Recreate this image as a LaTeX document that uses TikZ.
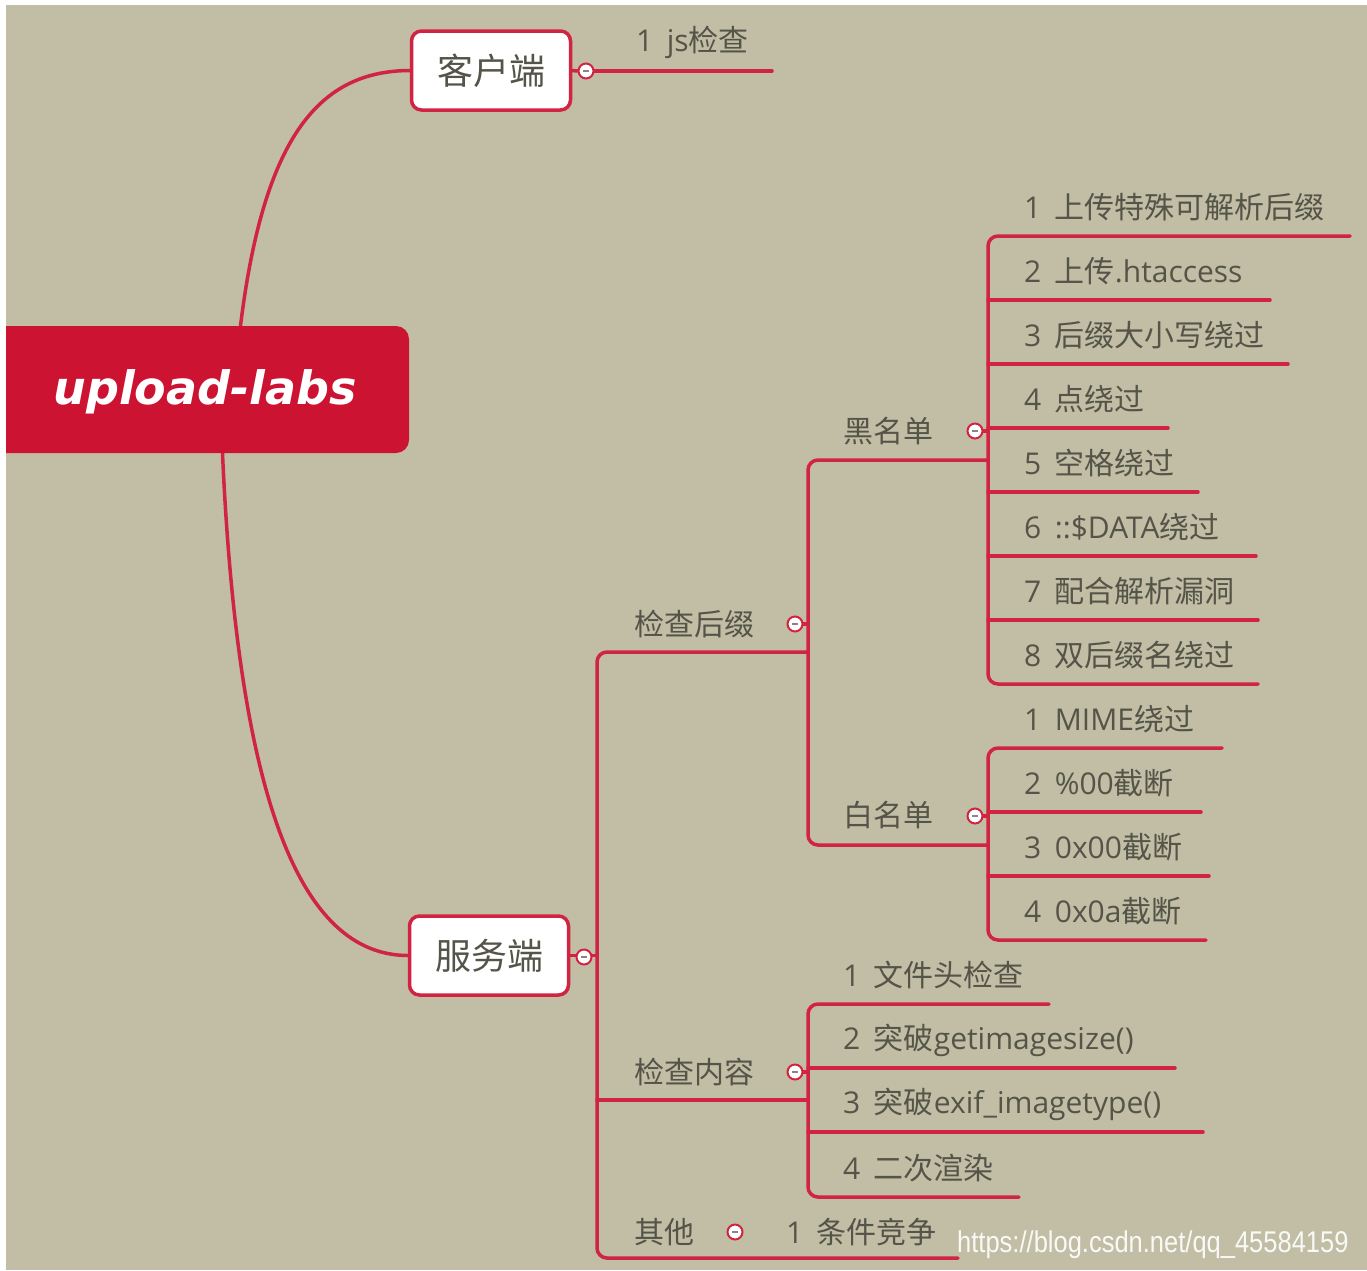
\documentclass[tikz,border=0pt]{standalone}
\usepackage{fontspec}
\setmainfont{Open Sans}
\newfontfamily\cjk{Noto Sans CJK SC}
\newfontfamily\rootfont{DejaVu Sans}[BoldItalicFont={DejaVu Sans Bold Oblique}]
\newfontfamily\wmfont{Liberation Sans}
\newcommand\C[1]{{\cjk #1}}
\newcommand\N[1]{#1\hspace{0.45em}}
\definecolor{bg}{RGB}{193,190,165}
\definecolor{mmred}{RGB}{204,20,50}
\definecolor{lnred}{RGB}{208,36,66}
\definecolor{txt}{RGB}{84,84,72}
\pgfdeclarelayer{back}
\pgfdeclarelayer{lines}
\pgfsetlayers{back,lines,main}
\begin{document}
\begin{tikzpicture}[x=1pt,y=-1pt,
  conn/.style={draw=lnred, line width=3.5pt, rounded corners=10pt, line cap=round},
  lbl/.style={anchor=west, inner sep=0pt, text=txt, font=\fontsize{30}{36}\selectfont},
  topic/.style={draw=lnred, line width=3.5pt, fill=white, rounded corners=10pt,
    minimum width=159pt, minimum height=79pt, inner sep=0pt, text=txt,
    font=\cjk\fontsize{36}{42}\selectfont},
  foldc/.style={circle, draw=lnred, line width=2pt, fill=white, minimum size=15pt, inner sep=0pt,
    path picture={\draw[txt!70, line width=1.2pt]
      ([xshift=-3pt]path picture bounding box.center) -- ([xshift=3pt]path picture bounding box.center);}},
]
\useasboundingbox (0,0) rectangle (1367,1270);
\begin{pgfonlayer}{back}
  \fill[white] (0,0) rectangle (1367,1270);
  \fill[bg] (6,5) rectangle (1367,1270);
\end{pgfonlayer}

% root
\begin{scope}
  \clip (6,0) rectangle (1367,1270);
  \node[fill=mmred, rounded corners=13pt, minimum width=429pt, minimum height=127pt, inner sep=0pt] (root) at (194.5,389.5) {};
\end{scope}
\node[text=white, inner sep=0pt, font=\rootfont\bfseries\itshape\fontsize{46}{54}\selectfont] (roottxt) at (205,392) {upload-labs};

% main topics
\node[topic] (kh) at (491,70.5) {客户端};
\node[topic] (fw) at (489,955.5) {服务端};

% labels
\node[lbl] (js) at (636,42) {\N{1}js\C{检查}};
\node[lbl] (jchz) at (634,624) {\C{检查后缀}};
\node[lbl] (jcnr) at (634,1072) {\C{检查内容}};
\node[lbl] (qt) at (634,1232) {\C{其他}};
\node[lbl] (hmd) at (843,431) {\C{黑名单}};
\node[lbl] (bmd) at (843,815) {\C{白名单}};

\node[lbl] (h1) at (1024,207) {\N{1}\C{上传特殊可解析后缀}};
\node[lbl] (h2) at (1024,271) {\N{2}\C{上传}.htaccess};
\node[lbl] (h3) at (1024,335) {\N{3}\C{后缀大小写绕过}};
\node[lbl] (h4) at (1024,399) {\N{4}\C{点绕过}};
\node[lbl] (h5) at (1024,463) {\N{5}\C{空格绕过}};
\node[lbl] (h6) at (1024,527) {\N{6}::\$DATA\C{绕过}};
\node[lbl] (h7) at (1024,591) {\N{7}\C{配合解析漏洞}};
\node[lbl] (h8) at (1024,655) {\N{8}\C{双后缀名绕过}};

\node[lbl] (b1) at (1024,719) {\N{1}MIME\C{绕过}};
\node[lbl] (b2) at (1024,783) {\N{2}\%00\C{截断}};
\node[lbl] (b3) at (1024,847) {\N{3}0x00\C{截断}};
\node[lbl] (b4) at (1024,911) {\N{4}0x0a\C{截断}};

\node[lbl] (n1) at (843,975) {\N{1}\C{文件头检查}};
\node[lbl] (n2) at (843,1040) {\N{2}\C{突破}getimagesize()};
\node[lbl] (n3) at (843,1104) {\N{3}\C{突破}exif\_imagetype()};
\node[lbl] (n4) at (843,1168) {\N{4}\C{二次渲染}};

\node[lbl] (t1) at (786,1232) {\N{1}\C{条件竞争}};

% fold circles
\node[foldc] (khf) at (586,71) {};
\node[foldc] (fwf) at (584,957) {};
\node[foldc] (jchzf) at (795,624) {};
\node[foldc] (jcnrf) at (795,1072) {};
\node[foldc] (hmdf) at (975,431) {};
\node[foldc] (bmdf) at (975,816) {};
\node[foldc] (qtf) at (735,1232) {};

% watermark
\node[anchor=west, inner sep=0pt, text=white!90!bg, font=\wmfont\fontsize{30}{36}\selectfont] (wm) at (957,1245)
  {\scalebox{0.85}[1]{https://blog.csdn.net/qq\_45584159}};

% bracket x positions and line ends
\coordinate (A) at (597,0);
\coordinate (B) at (808,0);
\coordinate (D) at (988,0);
\coordinate (jse) at (772,71);
\coordinate (jchzu) at (808,652);
\coordinate (jcnru) at (808,1100);
\coordinate (hmdu) at (988,460);
\coordinate (bmdu) at (988,845);
\coordinate (h1e) at (1350,236);
\coordinate (h2e) at (1270,300);
\coordinate (h3e) at (1288,364);
\coordinate (h4e) at (1168,428);
\coordinate (h5e) at (1198,492);
\coordinate (h6e) at (1256,556);
\coordinate (h7e) at (1258,620);
\coordinate (h8e) at (1258,684);
\coordinate (b1e) at (1222,748);
\coordinate (b2e) at (1201,812);
\coordinate (b3e) at (1209,876);
\coordinate (b4e) at (1206,940);
\coordinate (n1e) at (1049,1004);
\coordinate (n2e) at (1175,1068);
\coordinate (n3e) at (1203,1132);
\coordinate (n4e) at (1019,1197);
\coordinate (t1e) at (958,1258);

\begin{pgfonlayer}{lines}
  % root to main topics
  \draw[conn] ([xshift=46pt]root.north) .. controls (264,135) and (320,71) .. (kh.west);
  \draw[conn] ([xshift=28pt]root.south) .. controls (238,800) and (300,955) .. (fw.west);
  % client
  \draw[conn] (kh.east) -- (khf.west);
  \draw[conn] (khf.east) -- (jse);
  % server bracket
  \draw[conn] (fw.east) -- (A |- fw.east);
  \draw[conn] (jchzu) -- (A |- jchzu) -- (A |- t1e) -- (t1e);
  \draw[conn] (A |- jcnru) -- (jcnru);
  % 检查后缀 bracket
  \draw[conn] (hmdu) -- (B |- hmdu) -- (B |- bmdu) -- (bmdu);
  \draw[conn] (jchzf.east) -- (B |- jchzf);
  % 黑名单 bracket
  \draw[conn] (h1e) -- (D |- h1e) -- (D |- h8e) -- (h8e);
  \foreach \i in {2,...,7} { \draw[conn] (D |- h\i e) -- (h\i e); }
  \draw[conn] (hmdf.east) -- (D |- hmdf);
  % 白名单 bracket
  \draw[conn] (b1e) -- (D |- b1e) -- (D |- b4e) -- (b4e);
  \draw[conn] (D |- b2e) -- (b2e);
  \draw[conn] (D |- b3e) -- (b3e);
  \draw[conn] (bmdf.east) -- (D |- bmdf);
  % 检查内容 bracket
  \draw[conn] (n1e) -- (B |- n1e) -- (B |- n4e) -- (n4e);
  \draw[conn] (B |- n2e) -- (n2e);
  \draw[conn] (B |- n3e) -- (n3e);
  \draw[conn] (jcnrf.east) -- (B |- jcnrf);
\end{pgfonlayer}
\end{tikzpicture}
\end{document}
